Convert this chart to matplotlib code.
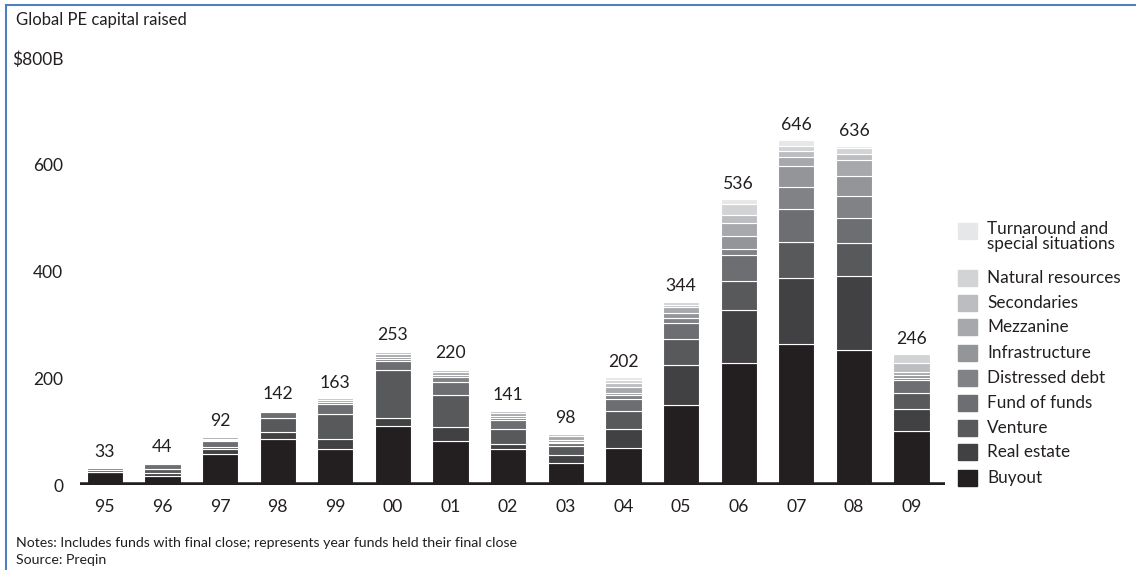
import matplotlib
matplotlib.use("Agg")
import matplotlib.pyplot as plt
import numpy as np

plt.rcParams['font.family'] = ['Lato', 'DejaVu Sans']

years = ["95", "96", "97", "98", "99", "00", "01", "02", "03", "04", "05", "06", "07", "08", "09"]
totals = [33, 44, 92, 142, 163, 253, 220, 141, 98, 202, 344, 536, 646, 636, 246]
total_labels = ["33", "44", "92", "142", "163", "253", "220", "141", "98", "202", "344", "536", "646", "636", "246"]

buyout        = [24, 16, 58, 87, 67, 111, 82, 68, 42, 70, 149, 228, 265, 253, 101]
real_estate   = [0,  6, 10, 12, 19, 15, 26, 8, 14, 35, 75, 100, 123, 139, 42]
venture       = [4,  8,  3, 26, 47, 89, 60, 28, 17, 33, 50, 54, 67, 62, 29]
fund_of_funds = [3,  9, 12, 12, 19, 17, 25, 17, 6, 24, 30, 48, 63, 46, 24]
distressed    = [1,  2,  2,  2,  4, 5, 10, 5, 2, 7, 8, 13, 40, 42, 5]
infrastructure= [0,  0,  1,  0,  0, 3, 3, 4, 3, 4, 10, 23, 40, 37, 5]
mezzanine     = [1,  3,  4,  2,  4, 5, 6, 5, 7, 10, 11, 24, 16, 29, 6]
secondaries   = [0,  0,  1,  1,  3, 4, 4, 4, 4, 9, 5, 16, 11, 13, 17]
natural_res   = [0,  0,  1,  0,  0, 2, 2, 1, 2, 5, 4, 21, 11, 11, 16]
turnaround    = [0,  0,  0,  0,  0, 2, 2, 1, 1, 5, 2, 9, 10, 4, 1]

series_names = ["Buyout", "Real estate", "Venture", "Fund of funds", "Distressed debt",
                "Infrastructure", "Mezzanine", "Secondaries", "Natural resources",
                "Turnaround and\nspecial situations"]
series_vals = [buyout, real_estate, venture, fund_of_funds, distressed,
               infrastructure, mezzanine, secondaries, natural_res, turnaround]
colors = ["#231f20", "#414042", "#58595b", "#6d6e71", "#808285",
          "#939598", "#a7a8ab", "#bcbdc0", "#d2d3d5", "#e6e7e8"]

ytick_vals = [0, 200, 400, 600, 800]
ytick_labels = ["0", "200", "400", "600", "$800B"]

W, H = 1136, 570
fig = plt.figure(figsize=(W / 100, H / 100), dpi=100)
ax = fig.add_axes([80 / W, 1 - 485 / H, (945 - 80) / W, (485 - 58) / H])

x = np.arange(len(years))
bottom = np.zeros(len(years))
for vals, col in zip(series_vals, colors):
    v = np.array(vals, dtype=float)
    ax.bar(x, v, width=0.63, bottom=bottom, color=col, edgecolor="white", linewidth=0.8, zorder=2)
    bottom += v

for xi, t, lab in zip(x, totals, total_labels):
    ax.annotate(lab, (xi, bottom[xi]), xytext=(0, 5), textcoords="offset points",
                ha="center", va="bottom", fontsize=12.7, color="#231f20")

ax.axhline(0, color="#231f20", linewidth=4, zorder=3)
ax.set_xlim(-0.43, 14.58)
ax.set_ylim(0, 800)
ax.set_xticks(x)
ax.set_xticklabels(years, fontsize=12.7, color="#231f20")
ax.set_yticks(ytick_vals)
ax.set_yticklabels(ytick_labels, fontsize=12.5, color="#231f20")
ax.tick_params(axis="both", length=0)
ax.tick_params(axis="y", pad=12)
ax.tick_params(axis="x", pad=10)
for s in ax.spines.values():
    s.set_visible(False)

# legend (manual, top to bottom)
leg_y = [478, 452, 428, 403, 378, 353, 327, 303, 278, 230]
for name, col, yc in zip(series_names, colors, leg_y):
    if "\n" in name:
        fig.patches.append(plt.Rectangle((958 / W, 1 - 239 / H), 19 / W, 16 / H,
                                         transform=fig.transFigure, color=col))
        fig.text(987 / W, 1 - 221 / H, name, fontsize=12.3, color="#231f20",
                 va="top", ha="left", linespacing=0.95)
    else:
        fig.patches.append(plt.Rectangle((958 / W, 1 - (yc + 8) / H), 19 / W, 16 / H,
                                         transform=fig.transFigure, color=col))
        fig.text(987 / W, 1 - yc / H, name, fontsize=12.3, color="#231f20",
                 va="center", ha="left")

fig.text(16 / W, 1 - 20 / H, "Global PE capital raised", fontsize=12, color="#231f20",
         va="center", ha="left")
fig.text(16 / W, 1 - 543 / H, "Notes: Includes funds with final close; represents year funds held their final close",
         fontsize=10.2, color="#231f20", va="center", ha="left")
fig.text(16 / W, 1 - 560 / H, "Source: Preqin", fontsize=10.2, color="#231f20", va="center", ha="left")

# border
fig.add_artist(plt.Line2D([6 / W, 6 / W], [0, 1 - 5 / H], transform=fig.transFigure, color="#4f81bd", linewidth=1.5))
fig.add_artist(plt.Line2D([6 / W, 1], [1 - 5 / H, 1 - 5 / H], transform=fig.transFigure, color="#4f81bd", linewidth=1.5))

fig.savefig("out.png", dpi=100)
